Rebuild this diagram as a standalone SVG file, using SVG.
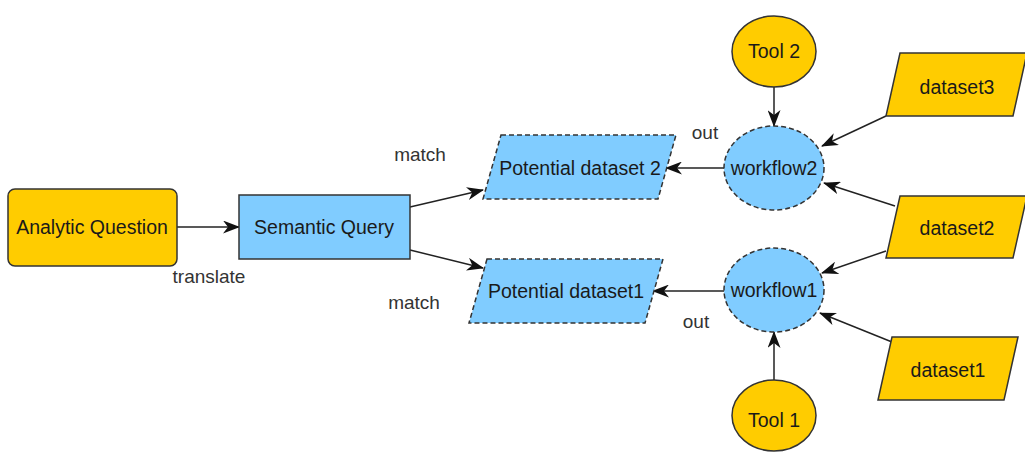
<svg xmlns="http://www.w3.org/2000/svg" width="1025" height="453" viewBox="0 0 1025 453">
<defs>
<marker id="arr" viewBox="0 0 17 13" refX="16" refY="6.5" markerWidth="17" markerHeight="13" markerUnits="userSpaceOnUse" orient="auto">
<path d="M0,0 L17,6.5 L0,13 L5,6.5 z" fill="#111"/>
</marker>
<style>
.yel{fill:#FFCC00;stroke:#333;stroke-width:1.5}
.blu{fill:#80CCFF;stroke:#333;stroke-width:1.5}
.dash{stroke-dasharray:5,3}
.t{font-family:"Liberation Sans",Arial,sans-serif;font-size:19.5px;fill:#1a1a1a;text-anchor:middle}
.lbl{font-family:"Liberation Sans",Arial,sans-serif;font-size:19px;fill:#333;text-anchor:middle}
.c{fill:none;stroke:#222;stroke-width:1.5;marker-end:url(#arr)}
</style>
</defs>
<rect width="1025" height="453" fill="#fff"/>
<g id="connectors">
<line class="c" x1="177" y1="227" x2="239" y2="227"/>
<line class="c" x1="410" y1="207" x2="483" y2="190"/>
<line class="c" x1="410" y1="250" x2="483" y2="268"/>
<line class="c" x1="724" y1="168" x2="666" y2="168"/>
<line class="c" x1="724" y1="291" x2="653" y2="291"/>
<line class="c" x1="774" y1="87" x2="774" y2="126"/>
<line class="c" x1="774" y1="380" x2="774" y2="332"/>
<line class="c" x1="886" y1="116" x2="822" y2="146"/>
<line class="c" x1="895" y1="206" x2="824" y2="183"/>
<line class="c" x1="886" y1="251" x2="822" y2="273"/>
<line class="c" x1="892" y1="342" x2="820" y2="313"/>
<text class="lbl" x="209" y="283">translate</text>
<text class="lbl" x="420" y="161">match</text>
<text class="lbl" x="414" y="309">match</text>
<text class="lbl" x="705" y="139">out</text>
<text class="lbl" x="696" y="328">out</text>
</g>
<g id="analytic-question">
<rect class="yel" x="8" y="189" width="169" height="77" rx="7"/>
<text class="t" x="92" y="234">Analytic Question</text>
</g>
<g id="semantic-query">
<rect class="blu" x="239" y="195" width="171" height="64"/>
<text class="t" x="324" y="234">Semantic Query</text>
</g>
<g id="potential-dataset-2">
<polygon class="blu dash" points="501,135 676,135 658,199 483,199"/>
<text class="t" x="580" y="175">Potential dataset 2</text>
</g>
<g id="potential-dataset-1">
<polygon class="blu dash" points="487,259 663,259 645,323 469,323"/>
<text class="t" x="566" y="298">Potential dataset1</text>
</g>
<g id="workflow2">
<ellipse class="blu dash" cx="774" cy="168" rx="50" ry="42"/>
<text class="t" x="774" y="175">workflow2</text>
</g>
<g id="workflow1">
<ellipse class="blu dash" cx="774" cy="290" rx="50" ry="42"/>
<text class="t" x="774" y="297">workflow1</text>
</g>
<g id="tool2">
<ellipse class="yel" cx="774" cy="51.5" rx="42" ry="35.5"/>
<text class="t" x="774" y="58">Tool 2</text>
</g>
<g id="tool1">
<ellipse class="yel" cx="774" cy="415.5" rx="42" ry="35.5"/>
<text class="t" x="774" y="427">Tool 1</text>
</g>
<g id="dataset3">
<polygon class="yel" points="900,53 1027,53 1013,116 886,116"/>
<text class="t" x="957" y="94">dataset3</text>
</g>
<g id="dataset2">
<polygon class="yel" points="900,196 1027,196 1013,258 886,258"/>
<text class="t" x="957" y="235">dataset2</text>
</g>
<g id="dataset1">
<polygon class="yel" points="892,337 1018,337 1004,400 878,400"/>
<text class="t" x="948" y="377">dataset1</text>
</g>
</svg>
